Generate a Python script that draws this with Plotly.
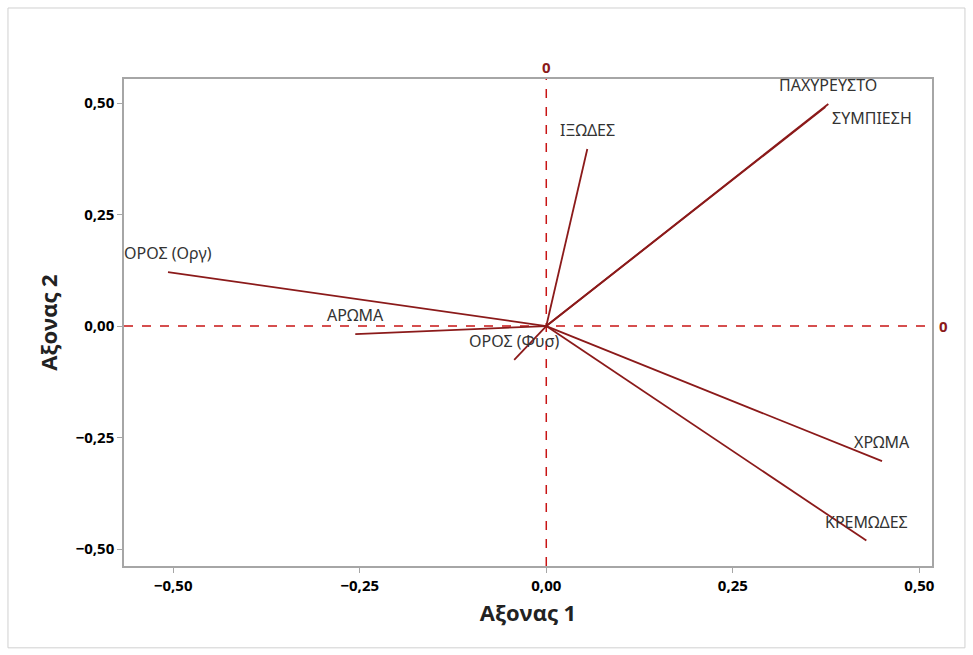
import plotly.graph_objects as go

variables = ["ΟΡΟΣ (Οργ)", "ΑΡΩΜΑ", "ΟΡΟΣ (Φυσ)", "ΙΞΩΔΕΣ", "ΠΑΧΥΡΕΥΣΤΟ", "ΣΥΜΠΙΕΣΗ", "ΧΡΩΜΑ", "ΚΡΕΜΩΔΕΣ"]
axis1 = [-0.507, -0.256, -0.043, 0.055, 0.378, 0.374, 0.450, 0.429]
axis2 = [0.121, -0.018, -0.076, 0.397, 0.498, 0.491, -0.303, -0.481]
x_ticks = [-0.50, -0.25, 0.00, 0.25, 0.50]
y_ticks = [-0.50, -0.25, 0.00, 0.25, 0.50]

line_color = "#8b1a1a"
ref_color = "#c81414"
frame_color = "#a6a6a6"
label_font = dict(family="Noto Sans", size=16, color="#333333")

fig = go.Figure()
for name, x, y in zip(variables, axis1, axis2):
    fig.add_trace(go.Scatter(x=[0, x], y=[0, y], mode="lines",
                             line=dict(color=line_color, width=1.8),
                             name=name, showlegend=False, hoverinfo="skip"))

# reference lines
fig.add_shape(type="line", xref="x", yref="paper", x0=0, x1=0, y0=0, y1=1,
              line=dict(color=ref_color, width=1.5, dash="dash"), layer="below")
fig.add_shape(type="line", xref="paper", yref="y", x0=0, x1=1, y0=0, y1=0,
              line=dict(color=ref_color, width=1.5, dash="dash"), layer="below")

# outer frame
fig.add_shape(type="rect", xref="paper", yref="paper",
              x0=-0.1436, x1=1.0408, y0=-0.168, y1=1.1458,
              line=dict(color="#d0d0d0", width=1))

# variable labels
for name, x, y in zip(variables, axis1, axis2):
    if name == "ΣΥΜΠΙΕΣΗ":
        fig.add_annotation(x=x, y=y, text=name, showarrow=False, xanchor="left",
                           yanchor="middle", xshift=5, yshift=-11, font=label_font)
    else:
        fig.add_annotation(x=x, y=y, text=name, showarrow=False, xanchor="center",
                           yanchor="middle", yshift=19, font=label_font)

# "0" reference labels
fig.add_annotation(x=0, y=1, xref="x", yref="paper", text="<b>0</b>", showarrow=False,
                   yanchor="middle", yshift=12, font=dict(family="Open Sans", size=15, color=line_color))
fig.add_annotation(x=1, y=0, xref="paper", yref="y", text="<b>0</b>", showarrow=False,
                   xanchor="center", xshift=11, font=dict(family="Open Sans", size=15, color=line_color))

tickfont = dict(family="Open Sans", size=15, color="black", weight="bold")
fig.update_layout(
    width=973, height=655,
    margin=dict(l=124, r=41, t=79, b=89),
    paper_bgcolor="white", plot_bgcolor="white",
    separators=",.",
    font=dict(family="Open Sans", color="black"),
    xaxis=dict(range=[-0.566, 0.517], tickvals=x_ticks, tickformat=".2f",
               showgrid=False, zeroline=False, showline=True, linecolor=frame_color,
               linewidth=1.5, mirror=True, ticks="outside", ticklen=5, tickcolor=frame_color,
               tickfont=tickfont,
               title=dict(text="<b>Αξονας 1</b>", font=dict(family="Open Sans", size=22, color="#222222"),
                          standoff=12)),
    yaxis=dict(range=[-0.538, 0.554], tickvals=y_ticks, tickformat=".2f",
               showgrid=False, zeroline=False, showline=True, linecolor=frame_color,
               linewidth=1.5, mirror=True, ticks="outside", ticklen=5, tickcolor=frame_color,
               tickfont=tickfont,
               title=dict(text="<b>Αξονας 2</b>", font=dict(family="Open Sans", size=22, color="#222222"),
                          standoff=12)),
)

fig.write_html("out.html")
